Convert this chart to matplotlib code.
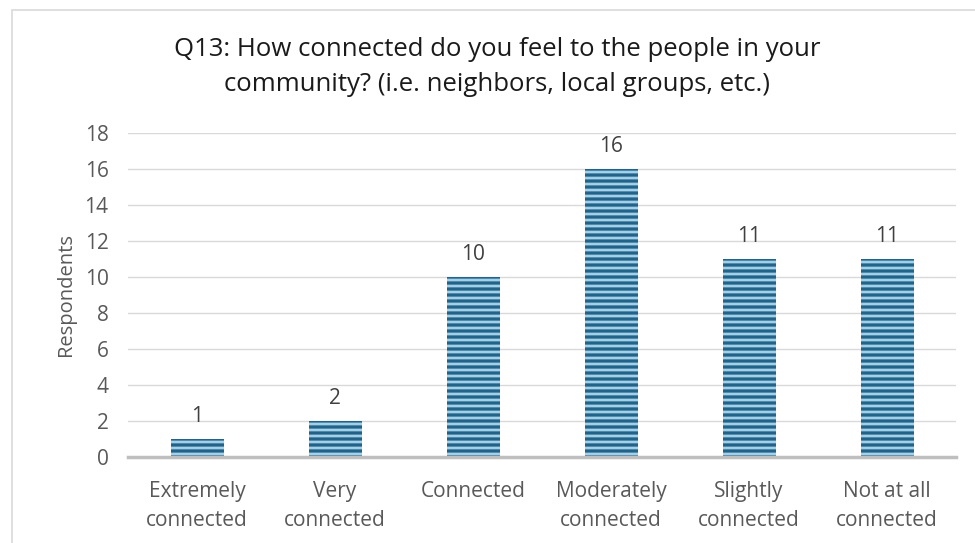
import numpy as np
import matplotlib
matplotlib.use("Agg")
import matplotlib.pyplot as plt
from matplotlib.colors import LinearSegmentedColormap
from matplotlib.patches import Rectangle

plt.rcParams['font.family'] = ['Open Sans', 'DejaVu Sans']

categories = ["Extremely\nconnected", "Very\nconnected", "Connected",
              "Moderately\nconnected", "Slightly\nconnected", "Not at all\nconnected"]
values = [1, 2, 10, 16, 11, 11]
yticks = [0, 2, 4, 6, 8, 10, 12, 14, 16, 18]
title = "Q13: How connected do you feel to the people in your\ncommunity? (i.e. neighbors, local groups, etc.)"
ylabel = "Respondents"

W, H = 975, 543
fig = plt.figure(figsize=(W / 100, H / 100), dpi=100)
fig.patch.set_facecolor("white")

# chart frame
fig.add_artist(Rectangle((12 / W, -0.05), 1.1, 1 - 10 / H + 0.05,
                         transform=fig.transFigure, fill=False,
                         edgecolor="#d9d9d9", linewidth=1.2))

left, right = 128 / W, 956 / W
bottom, top = 1 - 457 / H, 1 - 133 / H
ax = fig.add_axes([left, bottom, right - left, top - bottom])

ax.set_xlim(-0.5, len(values) - 0.5)
ax.set_ylim(0, 18)

for s in ["top", "right", "left"]:
    ax.spines[s].set_visible(False)
ax.spines["bottom"].set_color("#bfbfbf")
ax.spines["bottom"].set_linewidth(2.5)
ax.spines["bottom"].set_zorder(5)

ax.set_yticks(yticks)
ax.yaxis.grid(True, color="#d9d9d9", linewidth=1)
ax.set_axisbelow(True)
ax.tick_params(axis="y", length=0, pad=14, labelsize=15, labelcolor="#595959")
ax.tick_params(axis="x", length=0, pad=17, labelsize=15, labelcolor="#595959")
ax.set_xticks(range(len(values)))
ax.set_xticklabels(categories, linespacing=1.5)

ax.set_ylabel(ylabel, fontsize=14.5, color="#595959", labelpad=6)

# striped fill
cmap = LinearSegmentedColormap.from_list("stripe", ["#1d5b80", "#3a84ad", "#c4e3f3"])
period = 1 / 3
ys = np.linspace(0, 18, 4000)
pattern = 0.5 - 0.5 * np.cos(2 * np.pi * ys / period)
img = pattern[::-1, None] * np.ones((1, 4))

bar_w = 0.38
bars = ax.bar(range(len(values)), values, width=bar_w, color="none",
              edgecolor="none", linewidth=0, zorder=3)
for b in bars:
    im = ax.imshow(img, extent=[-0.5, len(values) - 0.5, 0, 18], aspect="auto",
                   cmap=cmap, interpolation="bilinear", zorder=2)
    im.set_clip_path(b)
ax.set_xlim(-0.5, len(values) - 0.5)
ax.set_ylim(0, 18)

for i, v in enumerate(values):
    ax.annotate(str(v), (i, v), xytext=(0, 12), textcoords="offset points",
                ha="center", va="baseline", fontsize=15, color="#404040")

fig.text(497 / W, 1 - 67 / H, title, ha="center", va="center",
         fontsize=18.5, color="#1a1a1a", linespacing=1.5)

fig.savefig("out.png", dpi=100, facecolor="white")
